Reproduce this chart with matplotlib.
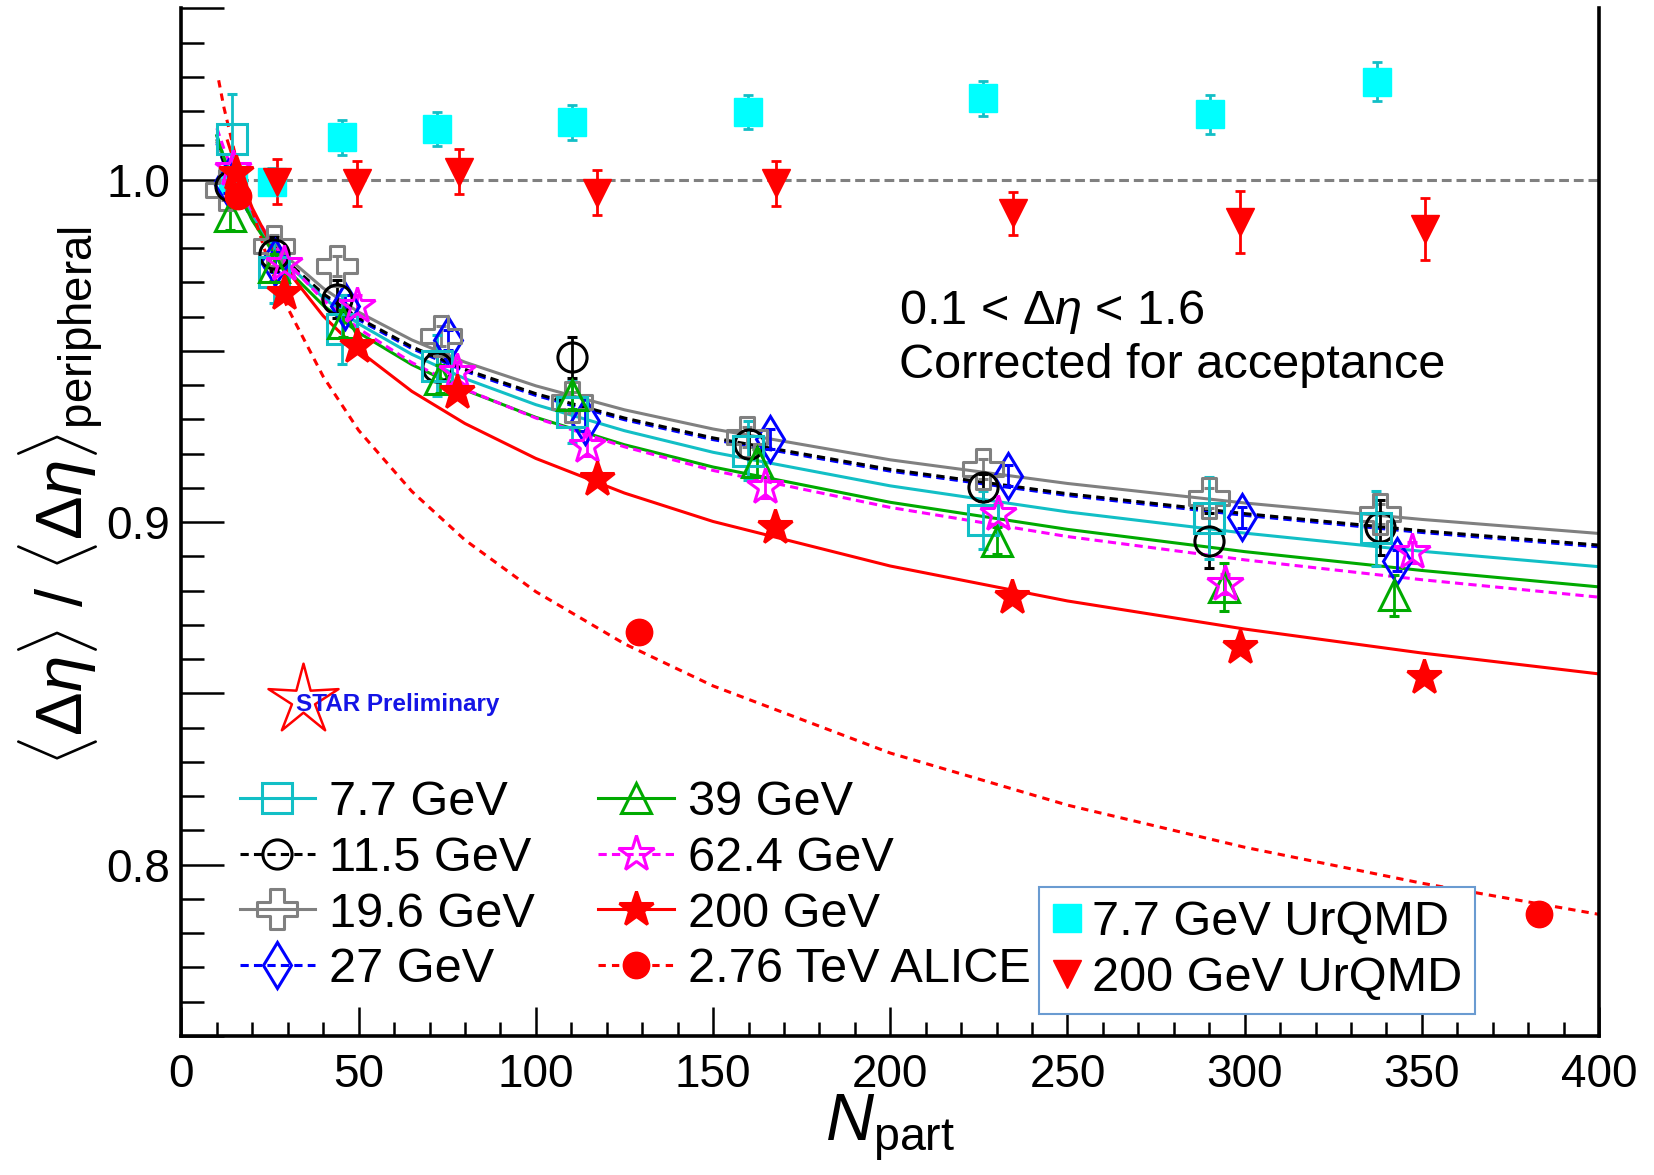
import numpy as np
import matplotlib.pyplot as plt
from matplotlib.lines import Line2D
from matplotlib.path import Path
from matplotlib.ticker import FixedLocator, FixedFormatter, MultipleLocator

plt.rcParams['font.family'] = 'Liberation Sans'
plt.rcParams['mathtext.fontset'] = 'custom'
plt.rcParams['mathtext.rm'] = 'Liberation Sans'
plt.rcParams['mathtext.it'] = 'Liberation Sans:italic'
plt.rcParams['mathtext.bf'] = 'Liberation Sans:bold'

# ---- STAR data (Npart, ratio, error) ----
n_77 = [14.2, 26.2, 45.2, 72.0, 110.1, 159.9, 226.2, 290.0, 337.0]
y_77 = [1.012, 0.9729, 0.9563, 0.9457, 0.9321, 0.9209, 0.9006, 0.9012, 0.8982]
e_77 = [0.013, 0.009, 0.010, 0.009, 0.009, 0.0085, 0.0085, 0.012, 0.011]

n_115 = [13.7, 26.2, 44.0, 72.0, 110.1, 160.0, 226.1, 290.0, 338.2]
y_115 = [0.9982, 0.9782, 0.9651, 0.9452, 0.9481, 0.9228, 0.9102, 0.8946, 0.8985]
e_115 = [0.004, 0.005, 0.0055, 0.004, 0.006, 0.004, 0.004, 0.008, 0.008]

n_196 = [12.5, 26.2, 44.0, 73.2, 110.1, 159.5, 226.1, 290.0, 338.2]
y_196 = [0.997, 0.9807, 0.9748, 0.9544, 0.935, 0.9248, 0.9155, 0.9071, 0.9024]
e_196 = [0.003, 0.003, 0.003, 0.003, 0.003, 0.003, 0.003, 0.003, 0.003]

n_27 = [13.0, 26.5, 46.2, 75.3, 113.9, 166.1, 233.3, 299.2, 342.9]
y_27 = [0.999, 0.976, 0.9632, 0.9532, 0.9296, 0.9243, 0.9136, 0.9014, 0.8888]
e_27 = [0.003, 0.003, 0.003, 0.003, 0.003, 0.003, 0.003, 0.003, 0.003]

n_39 = [13.7, 26.0, 45.5, 73.0, 110.1, 162.3, 230.0, 294.2, 342.2]
y_39 = [0.9894, 0.9744, 0.958, 0.9418, 0.937, 0.9175, 0.8946, 0.881, 0.8786]
e_39 = [0.004, 0.004, 0.004, 0.004, 0.004, 0.004, 0.004, 0.007, 0.006]

n_624 = [14.6, 29.0, 49.5, 77.7, 114.4, 164.7, 230.5, 294.5, 347.1]
y_624 = [1.003, 0.9753, 0.9632, 0.9437, 0.9223, 0.9102, 0.9024, 0.882, 0.8912]
e_624 = [0.003, 0.003, 0.003, 0.003, 0.003, 0.003, 0.003, 0.003, 0.003]

n_200 = [15.5, 28.8, 49.5, 77.7, 117.2, 167.5, 234.3, 298.7, 350.6]
y_200 = [1.002, 0.967, 0.9515, 0.9379, 0.9126, 0.8985, 0.8781, 0.8635, 0.8548]
e_200 = [0.002, 0.002, 0.002, 0.002, 0.002, 0.002, 0.002, 0.002, 0.002]

n_alice = [15.9, 129.2, 383.0]
y_alice = [0.9953, 0.868, 0.7857]

# ---- UrQMD ----
n_urqmd77 = [14.5, 25.6, 45.2, 72.0, 110.1, 159.8, 226.2, 290.2, 337.2]
y_urqmd77 = [1.000, 0.9994, 1.0123, 1.0147, 1.0167, 1.0197, 1.0237, 1.0191, 1.0286]
e_urqmd77 = [0.003, 0.004, 0.005, 0.005, 0.005, 0.005, 0.005, 0.0057, 0.0057]

n_urqmd200 = [27.1, 49.4, 78.3, 117.3, 167.9, 234.5, 298.8, 350.9]
y_urqmd200 = [0.9994, 0.9989, 1.0023, 0.9962, 0.9989, 0.9902, 0.9877, 0.9855]
e_urqmd200 = [0.0065, 0.0065, 0.0065, 0.0065, 0.0066, 0.0063, 0.009, 0.009]

# ---- fit curves ----
fit_n = [10, 12, 15, 20, 25, 30, 40, 50, 65, 80, 100, 125, 150, 200, 250, 300, 350, 400]
fit_77 = [1.0128, 1.0066, 0.9990, 0.9891, 0.9815, 0.9753, 0.9655, 0.9579, 0.9490,
          0.9419, 0.9343, 0.9267, 0.9204, 0.9106, 0.9030, 0.8968, 0.8915, 0.8870]
fit_115 = [1.0110, 1.0051, 0.9980, 0.9888, 0.9817, 0.9759, 0.9667, 0.9596, 0.9512,
           0.9446, 0.9375, 0.9304, 0.9246, 0.9154, 0.9083, 0.9025, 0.8975, 0.8933]
fit_196 = [1.0114, 1.0057, 0.9988, 0.9898, 0.9829, 0.9772, 0.9683, 0.9613, 0.9532,
           0.9467, 0.9398, 0.9328, 0.9272, 0.9182, 0.9113, 0.9056, 0.9008, 0.8967]
fit_27 = [1.0105, 1.0046, 0.9975, 0.9883, 0.9812, 0.9754, 0.9662, 0.9591, 0.9507,
          0.9441, 0.9370, 0.9299, 0.9241, 0.9149, 0.9078, 0.9020, 0.8970, 0.8928]
fit_39 = [1.0128, 1.0063, 0.9983, 0.9881, 0.9801, 0.9736, 0.9633, 0.9553, 0.9460,
          0.9386, 0.9306, 0.9226, 0.9161, 0.9058, 0.8979, 0.8914, 0.8859, 0.8811]
fit_624 = [1.0150, 1.0090, 1.0012, 0.9908, 0.9825, 0.9757, 0.9649, 0.9565, 0.9466,
           0.9388, 0.9304, 0.9220, 0.9151, 0.9043, 0.8958, 0.8890, 0.8832, 0.8781]
fit_n_200 = [13, 15, 20, 25, 30, 40, 50, 65, 80, 100, 125, 150, 200, 250, 300, 350, 400]
fit_200 = [1.0113, 1.0048, 0.9917, 0.9816, 0.9733, 0.9602, 0.9501, 0.9382,
           0.9288, 0.9186, 0.9085, 0.9002, 0.8872, 0.8770, 0.8688, 0.8618, 0.8557]
alice_n = [10.5, 12, 15, 20, 25, 30, 40, 50, 65, 80, 100, 125, 150, 200, 250, 300, 350, 400]
fit_alice = [1.029, 1.021, 1.008, 0.9910, 0.9745, 0.9625, 0.9425, 0.9268, 0.9090,
             0.8948, 0.8797, 0.8645, 0.8522, 0.8326, 0.8174, 0.8051, 0.7946, 0.7855]

labels_left = ['7.7 GeV', '11.5 GeV', '19.6 GeV', '27 GeV',
               '39 GeV', '62.4 GeV', '200 GeV', '2.76 TeV ALICE']
labels_urqmd = ['7.7 GeV UrQMD', '200 GeV UrQMD']

# open cross marker like ROOT's
a = 1 / 3
cross = Path([(-a, 1), (a, 1), (a, a), (1, a), (1, -a), (a, -a), (a, -1),
              (-a, -1), (-a, -a), (-1, -a), (-1, a), (-a, a), (-a, 1)], closed=True)

CYAN = '#12bfc6'
GREEN = '#00aa00'
DOTS = (0, (2.7, 1.7))

# (n, y, err, color, linestyle, marker, ms, filled)
s77 = (n_77, y_77, e_77, CYAN, '-', 's', 21, False)
s115 = (n_115, y_115, e_115, 'black', DOTS, 'o', 21, False)
s196 = (n_196, y_196, e_196, 'gray', '-', cross, 29, False)
s27 = (n_27, y_27, e_27, 'blue', DOTS, 'd', 23, False)
s39 = (n_39, y_39, e_39, GREEN, '-', '^', 22, False)
s624 = (n_624, y_624, e_624, 'magenta', DOTS, '*', 27, False)
s200 = (n_200, y_200, e_200, 'red', '-', '*', 26, True)

fig = plt.figure(figsize=(16.54, 11.75), dpi=100)
ax = fig.add_axes([0.1097, 0.1183, 0.8571, 0.8746])

# fit curves (27 GeV first so the 11.5 GeV dots sit on top)
ax.plot(fit_n, fit_27, color='blue', ls=DOTS, lw=2.2, zorder=2)
ax.plot(fit_n, fit_196, color='gray', ls='-', lw=2.2, zorder=2)
ax.plot(fit_n, fit_115, color='black', ls=DOTS, lw=2.2, zorder=2)
ax.plot(fit_n, fit_77, color=CYAN, ls='-', lw=2.2, zorder=2)
ax.plot(fit_n, fit_39, color=GREEN, ls='-', lw=2.2, zorder=2)
ax.plot(fit_n, fit_624, color='magenta', ls=DOTS, lw=2.2, zorder=2)
ax.plot(fit_n_200, fit_200, color='red', ls='-', lw=2.2, zorder=2)
ax.plot(alice_n, fit_alice, color='red', ls=(0, (2.4, 2.0)), lw=2.2, zorder=2)

ax.hlines(1.0, 12, 400, color='#808080', lw=2.2, linestyles=(0, (3.2, 1.6)), zorder=1)

ax.errorbar(n_urqmd77, y_urqmd77, yerr=e_urqmd77, ls='none', marker='s', ms=20,
            mfc='#00ffff', mec='#00ffff', ecolor=CYAN, elinewidth=2, capsize=3.5,
            capthick=2, zorder=2.5)
ax.errorbar(n_urqmd200, y_urqmd200, yerr=e_urqmd200, ls='none', marker='v', ms=20,
            mfc='red', mec='red', ecolor='red', elinewidth=2, capsize=3.5,
            capthick=2, zorder=2.5)

for n, y, e, c, ls, m, ms, filled in [s27, s196, s115, s77, s39, s624, s200]:
    ax.errorbar(n, y, yerr=e, ls='none', marker=m, ms=ms, mec=c,
                mfc=c if filled else 'none', mew=2.2, ecolor=c, elinewidth=2,
                capsize=3.5, capthick=2, zorder=3)

ax.plot(n_alice, y_alice, ls='none', marker='o', ms=19, color='red', zorder=4)

ax.set_xlim(0, 400)
ax.set_ylim(0.75, 1.05)

ax.xaxis.set_major_locator(MultipleLocator(50))
ax.xaxis.set_minor_locator(MultipleLocator(10))
ax.yaxis.set_major_locator(FixedLocator([0.75, 0.80, 0.85, 0.90, 0.95, 1.00, 1.05]))
ax.yaxis.set_major_formatter(FixedFormatter(['', '0.8', '', '0.9', '', '1.0', '']))
ax.yaxis.set_minor_locator(MultipleLocator(0.01))

ax.tick_params(axis='y', which='major', direction='in', length=31, width=1.8,
               labelsize=33, pad=8)
ax.tick_params(axis='y', which='minor', direction='in', length=16.5, width=1.8)
ax.tick_params(axis='x', which='major', direction='in', length=21, width=1.8,
               labelsize=33, pad=12)
ax.tick_params(axis='x', which='minor', direction='in', length=10, width=1.8)
ax.spines['top'].set_visible(False)
for sp in ['left', 'bottom', 'right']:
    ax.spines[sp].set_linewidth(2.6)

fig.text(0.0367, 0.578, r'$\langle\Delta\eta\rangle\ /\ \langle\Delta\eta\rangle_{\rm peripheral}$',
         rotation=90, ha='center', va='center', fontsize=47)
ax.set_xlabel(r'$N_{\rm part}$', fontsize=48, labelpad=-3)

ax.text(0.506, 0.705, r'0.1 < $\Delta\eta$ < 1.6', transform=ax.transAxes,
        fontsize=35, va='center')
ax.text(0.506, 0.652, 'Corrected for acceptance', transform=ax.transAxes,
        fontsize=35, va='center')

# STAR Preliminary logo
ang = np.pi / 2 + np.arange(11) * np.pi / 5
rad = np.where(np.arange(11) % 2 == 0, 1.0, 0.33)
star_path = Path(np.column_stack([rad * np.cos(ang), rad * np.sin(ang)]), closed=True)
ax.plot([0.0858], [0.327], transform=ax.transAxes, marker=star_path, ms=53,
        mfc='none', mec='red', mew=1.8, clip_on=False)
ax.text(0.0805, 0.3226, 'STAR Preliminary', transform=ax.transAxes, color='#1414e6',
        fontsize=17.5, fontweight='bold', va='center')

# legends
handles = []
for n, y, e, c, ls, m, ms, filled in [s77, s115, s196, s27, s39, s624, s200]:
    handles.append(Line2D([], [], color=c, ls=ls, lw=2.2, marker=m, ms=ms, mec=c,
                          mfc=c if filled else 'none', mew=2.2))
handles.append(Line2D([], [], color='red', ls=(0, (2.4, 2.0)), lw=2.2, marker='o', ms=19))
leg1 = ax.legend(handles, labels_left, ncol=2, loc='upper left',
                 bbox_to_anchor=(0.041, 0.249), frameon=False, fontsize=35,
                 handlelength=1.55, handletextpad=0.3, columnspacing=1.3,
                 labelspacing=0.22, borderpad=0, borderaxespad=0)
ax.add_artist(leg1)

h2 = [Line2D([], [], ls='none', marker='s', ms=20, color='#00ffff'),
      Line2D([], [], ls='none', marker='v', ms=20, color='red')]
leg2 = ax.legend(h2, labels_urqmd, loc='lower left', bbox_to_anchor=(0.605, 0.021),
                 frameon=True, fontsize=35, handlelength=0.6, handletextpad=0.2,
                 labelspacing=0.22, borderpad=0.28, borderaxespad=0, fancybox=False,
                 edgecolor='#6a9bd1', framealpha=1)
leg2.get_frame().set_linewidth(1.5)

fig.savefig('out.png', dpi=100)
